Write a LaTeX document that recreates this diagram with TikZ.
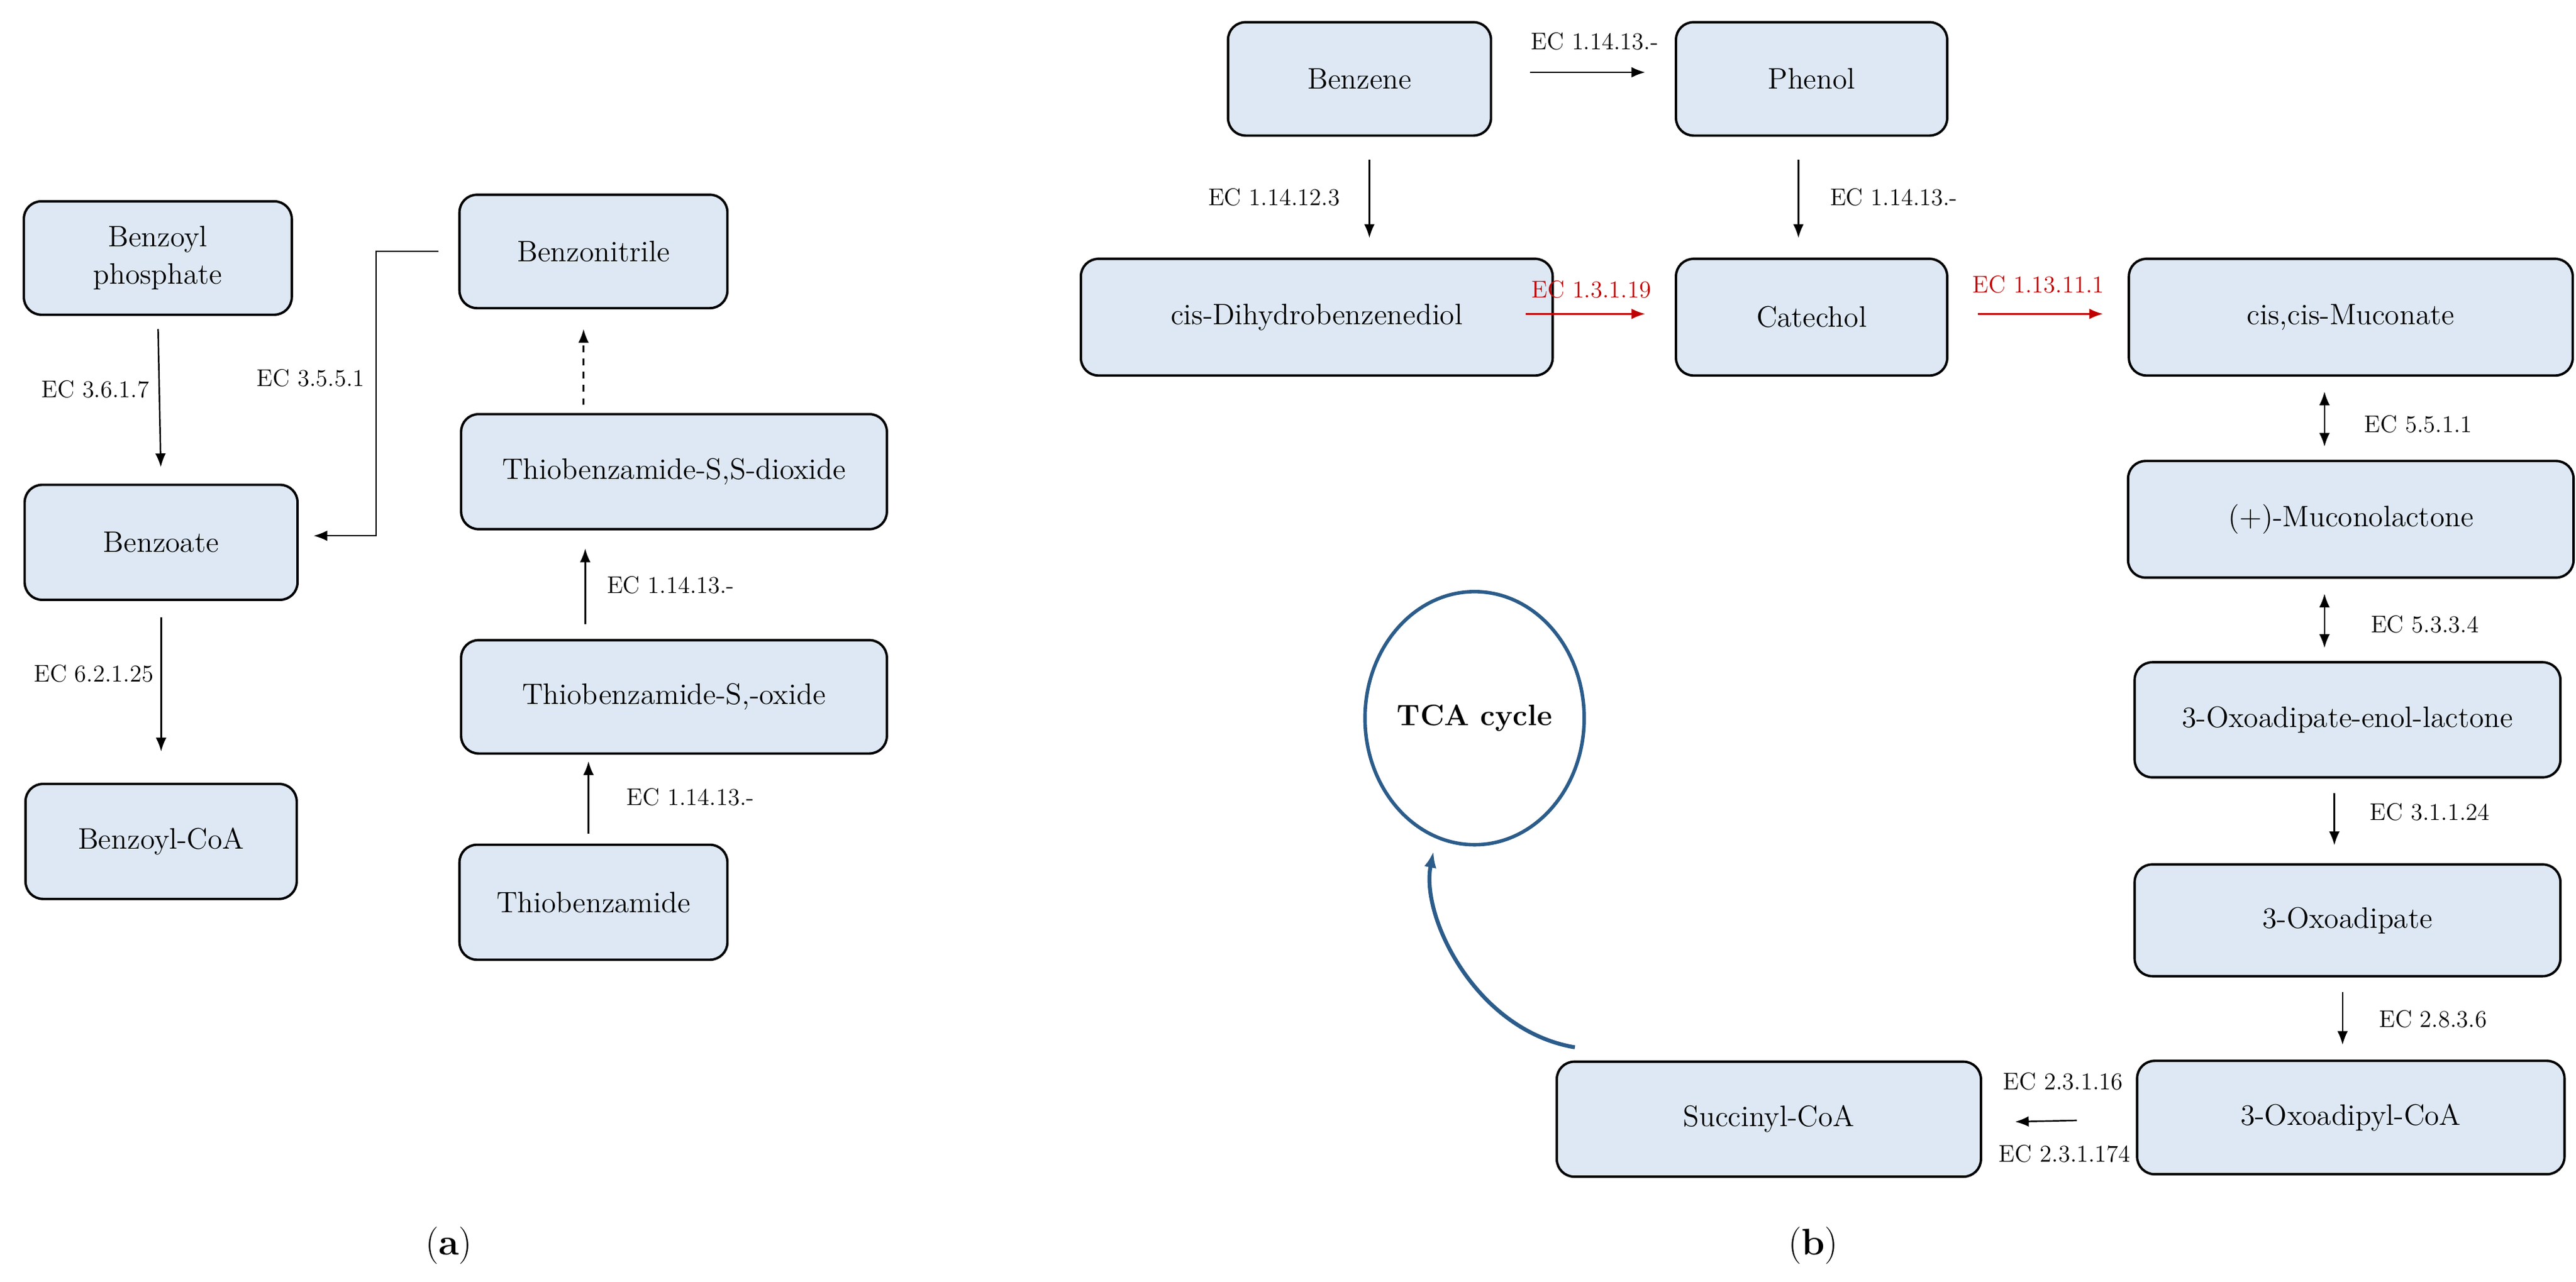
\documentclass[tikz,border=0pt]{standalone}
\usetikzlibrary{arrows.meta,calc,shapes.geometric}
\newcommand\uu{0.02636cm}
\definecolor{boxfill}{HTML}{DDE8F4}
\definecolor{redc}{HTML}{C00000}
\definecolor{tca}{HTML}{2B5C8A}
\begin{document}
\begin{tikzpicture}[x=0.02636cm,y=-0.02636cm,
  box/.style={draw=black,line width=1.1pt,fill=boxfill,rounded corners=8pt,align=center,font=\fontsize{13.5}{17}\selectfont,inner sep=0pt},
  lab/.style={font=\fontsize{11}{13}\selectfont,inner sep=0pt},
  arr/.style={line width=0.7pt,-{Latex[length=2.2mm,width=1.7mm]}},
  darr/.style={line width=0.7pt,{Latex[length=2.2mm,width=1.7mm]}-{Latex[length=2.2mm,width=1.7mm]}}]
\useasboundingbox (0,0) rectangle (1567,780);
\def\bx#1#2#3#4#5#6{\node[box,minimum width={#4*\uu},minimum height={#5*\uu}] (#1) at (#2,#3) {#6};}
% panel a
\bx{bp}{96}{157}{163}{69}{Benzoyl\\phosphate}
\bx{bz}{98}{330}{166}{70}{Benzoate}
\bx{bc}{98}{512}{165}{70}{Benzoyl-CoA}
\bx{bn}{361}{153}{163}{69}{Benzonitrile}
\bx{sd}{410}{287}{259}{70}{Thiobenzamide-S,S-dioxide}
\bx{so}{410}{424}{259}{69}{Thiobenzamide-S,-oxide}
\bx{tb}{361}{549}{163}{70}{Thiobenzamide}
\draw[arr,shorten <={8*\uu},shorten >={10*\uu}] (bp.south) -- (bz.north);
\draw[arr,shorten <={10*\uu},shorten >={19*\uu}] (bz.south) -- (bc.north);
\node[lab] at (58,237) {EC 3.6.1.7};
\node[lab] at (57,410) {EC 6.2.1.25};
\draw[arr] ([xshift={-12*\uu}]bn.west) -| ([xshift={47*\uu},yshift={4*\uu}]bz.east) -- ([xshift={9*\uu},yshift={4*\uu}]bz.east);
\node[lab] at (189,230) {EC 3.5.5.1};
\draw[arr,dashed,shorten <={5*\uu},shorten >={12*\uu}] ([xshift={-6*\uu}]bn.south |- sd.north) -- ([xshift={-6*\uu}]bn.south);
\draw[arr,shorten <={9*\uu},shorten >={11*\uu}] ([xshift={-5*\uu}]tb.north |- so.north) -- ([xshift={-5*\uu}]tb.north |- sd.south);
\draw[arr,shorten <={6*\uu},shorten >={4*\uu}] ([xshift={-3*\uu}]tb.north) -- ([xshift={-3*\uu}]tb.north |- so.south);
\node[lab] at (408,356) {EC 1.14.13.-};
\node[lab] at (420,485) {EC 1.14.13.-};
\node[font=\fontsize{17}{20}\selectfont] (la) at (273,758) {(\textbf{a})};
% panel b
\bx{be}{827}{48}{160}{69}{Benzene}
\bx{ph}{1102}{48}{165}{69}{Phenol}
\bx{cd}{801}{193}{287}{71}{cis-Dihydrobenzenediol}
\bx{ca}{1102}{193}{165}{71}{Catechol}
\bx{mu}{1430}{193}{270}{71}{cis,cis-Muconate}
\bx{ml}{1430}{316}{271}{71}{(+)-Muconolactone}
\bx{el}{1428}{438}{259}{70}{3-Oxoadipate-enol-lactone}
\bx{oa}{1428}{560}{259}{68}{3-Oxoadipate}
\bx{oc}{1430}{680}{260}{69}{3-Oxoadipyl-CoA}
\bx{sc}{1076}{681}{258}{70}{Succinyl-CoA}
\node[draw=tca,line width=1.6pt,ellipse,inner sep=0pt,minimum width={125*\uu},minimum height={154*\uu},font=\fontsize{13.5}{16}\selectfont\bfseries] (tca) at (897,437) {TCA cycle};
\draw[arr,shorten <={23*\uu},shorten >={18*\uu}] ([yshift={4*\uu}]be.east) -- ([yshift={4*\uu}]ph.west);
\node[lab] at (970,25) {EC 1.14.13.-};
\draw[arr,shorten <={14*\uu},shorten >={12*\uu}] ([xshift={6*\uu}]be.south) -- ([xshift={6*\uu}]be.south |- cd.north);
\node[lab] at (775,120) {EC 1.14.12.3};
\draw[arr,shorten <={14*\uu},shorten >={12*\uu}] ([xshift={-8*\uu}]ph.south) -- ([xshift={-8*\uu}]ca.north);
\node[lab] at (1152,120) {EC 1.14.13.-};
\draw[arr,redc,shorten <={-17*\uu},shorten >={18*\uu}] ([yshift={2*\uu}]cd.east) -- ([yshift={2*\uu}]ca.west);
\node[lab,text=redc] at (968,176) {EC 1.3.1.19};
\draw[arr,redc,shorten <={18*\uu},shorten >={15*\uu}] ([yshift={2*\uu}]ca.east) -- ([yshift={2*\uu}]mu.west);
\node[lab,text=redc] at (1240,173) {EC 1.13.11.1};
\draw[darr,shorten <={9*\uu},shorten >={8*\uu}] ([xshift={-16*\uu}]mu.south) -- ([xshift={-16*\uu}]ml.north);
\node[lab] at (1471,258) {EC 5.5.1.1};
\draw[darr,shorten <={9*\uu},shorten >={8*\uu}] ([xshift={-16*\uu}]ml.south) -- ([xshift={-16*\uu}]ml.south |- el.north);
\node[lab] at (1475,380) {EC 5.3.3.4};
\draw[arr,shorten <={9*\uu},shorten >={11*\uu}] ([xshift={-8*\uu}]el.south) -- ([xshift={-8*\uu}]oa.north);
\node[lab] at (1478,494) {EC 3.1.1.24};
\draw[arr,shorten <={9*\uu},shorten >={9*\uu}] ([xshift={-3*\uu}]oa.south) -- ([xshift={-3*\uu}]oa.south |- oc.north);
\node[lab] at (1480,620) {EC 2.8.3.6};
\draw[arr,shorten <={36*\uu},shorten >={20*\uu}] ([yshift={-1*\uu}]oc.west) -- ([yshift={-2*\uu}]sc.east);
\node[lab] at (1255,658) {EC 2.3.1.16};
\node[lab] at (1256,702) {EC 2.3.1.174};
\draw[tca,line width=1.8pt,-{Latex[length=2.6mm,width=2mm]}] ([xshift={-118*\uu},yshift={8*\uu}]sc.north) .. controls +(-60,-10) and +(-8,40) .. ([xshift={-25*\uu},yshift={-3*\uu}]tca.south);
\node[font=\fontsize{17}{20}\selectfont] (lb) at (1103,758) {(\textbf{b})};
\end{tikzpicture}
\end{document}
